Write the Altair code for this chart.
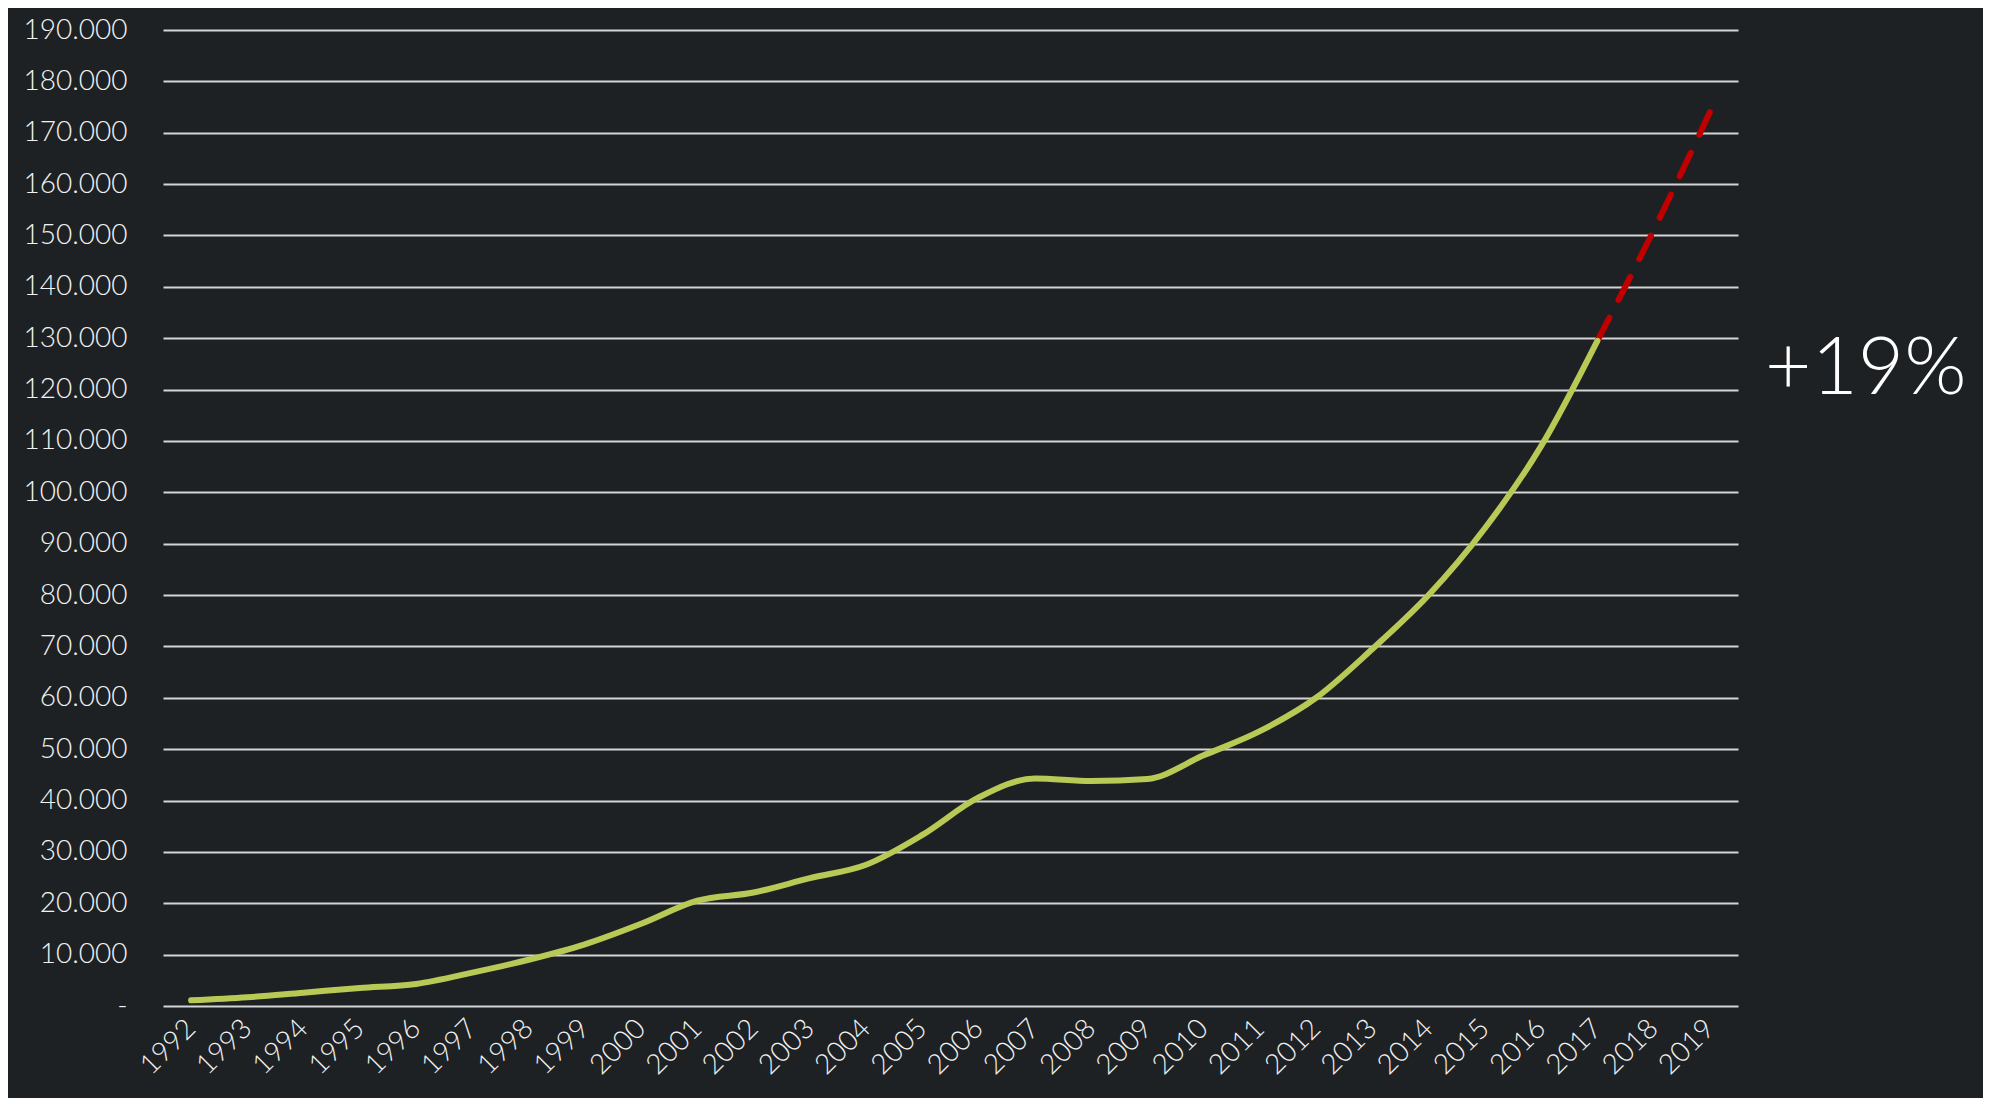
import altair as alt
import pandas as pd

years = [str(y) for y in range(1992, 2020)]
actual_years = [str(y) for y in range(1992, 2018)]
actual_values = [1100, 1700, 2600, 3500, 4300, 6500, 9000, 12000, 16000, 20500,
                 22100, 24900, 27500, 33300, 40600, 44300, 43800, 44200, 48800,
                 53500, 60000, 69500, 80000, 93000, 109000, 129500]
forecast_years = ["2017", "2018", "2019"]
forecast_values = [129500, 151000, 174000]
y_ticks = list(range(0, 190001, 10000))
annotation = "+19%"

FONT = "Lato"
BG = "#1e2124"

df_a = pd.DataFrame({"year": actual_years, "value": actual_values})
df_f = pd.DataFrame({"year": forecast_years, "value": forecast_values})

x_enc = alt.X("year:O", scale=alt.Scale(domain=years, type="point", padding=0.5),
              axis=alt.Axis(title=None, labelAngle=-45, labelAlign="right",
                            labelBaseline="middle", labelPadding=18, ticks=False,
                            domain=False, labelFont=FONT, labelFontSize=28,
                            labelFontWeight=300, labelColor="#f2f2f2", grid=False))
y_enc = alt.Y("value:Q", scale=alt.Scale(domain=[0, 190000], nice=False),
              axis=alt.Axis(title=None, values=y_ticks, ticks=False, domain=False,
                            labelExpr="datum.value == 0 ? '-' : replace(format(datum.value, ',d'), ',', '.')",
                            labelPadding=36, labelFont=FONT, labelFontSize=28,
                            labelFontWeight=300, labelColor="#f2f2f2",
                            grid=True, gridColor="#d4d4d4", gridWidth=2, gridOpacity=1))

actual = alt.Chart(df_a).mark_line(color="#b9c955", strokeWidth=6, interpolate="monotone",
                                   strokeCap="round").encode(x=x_enc, y=y_enc)
forecast = alt.Chart(df_f).mark_line(color="#c00000", strokeWidth=6, interpolate="monotone",
                                     strokeDash=[26, 20], strokeCap="round").encode(
    x=alt.X("year:O", scale=alt.Scale(domain=years, type="point", padding=0.5)),
    y=alt.Y("value:Q"))

label = alt.Chart(pd.DataFrame({"t": [annotation]})).mark_text(
    font=FONT, fontSize=80, fontWeight=300, color="#ffffff", align="left",
    baseline="alphabetic").encode(text="t:N", x=alt.value(1602), y=alt.value(364))

chart = alt.layer(forecast, actual, label).properties(
    width=1575, height=976,
    autosize=alt.AutoSizeParams(type="none"),
    padding={"left": 155, "top": 22, "right": 245, "bottom": 92},
    background=BG,
).configure_view(stroke=None)

chart.save("out.html", embed_options={"renderer": "svg", "actions": False})
